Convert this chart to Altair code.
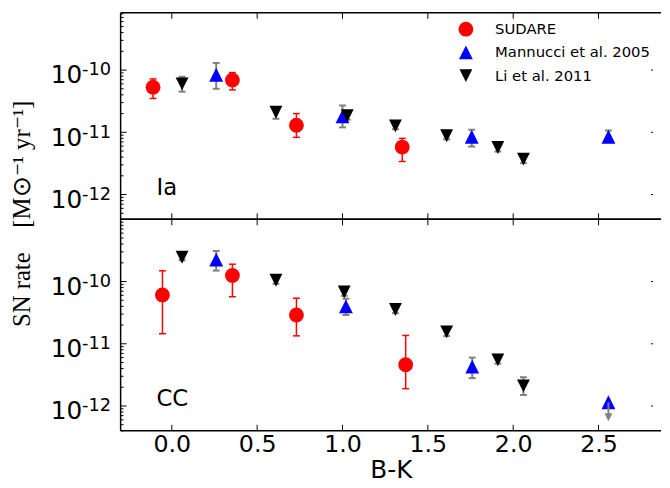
import altair as alt
import pandas as pd

FONT = "DejaVu Sans"
SERIF = "Liberation Serif"

series_names = ["SUDARE", "Mannucci et al. 2005", "Li et al. 2011"]
series_colors = ["#ff0000", "#0000ff", "#000000"]
err_colors = ["#ff0000", "#808080", "#808080"]
TRI_UP = "M0,-1L1,1L-1,1Z"
TRI_DOWN = "M0,1L1,-1L-1,-1Z"
series_shapes = ["circle", TRI_UP, TRI_DOWN]
series_sizes = [225, 169, 169]

# ---- Ia panel ----
ia_sudare_x = [-0.11, 0.355, 0.73, 1.35]
ia_sudare_y = [5.3e-11, 6.9e-11, 1.3e-11, 5.8e-12]
ia_sudare_lo = [3.5e-11, 4.8e-11, 8.3e-12, 3.4e-12]
ia_sudare_hi = [7.2e-11, 9.1e-11, 2.0e-11, 8.0e-12]

ia_mannucci_x = [0.26, 1.0, 1.757, 2.558]
ia_mannucci_y = [8.4e-11, 1.8e-11, 8.5e-12, 8.5e-12]
ia_mannucci_lo = [5.0e-11, 1.2e-11, 5.9e-12, 8.0e-12]
ia_mannucci_hi = [1.3e-10, 2.7e-11, 1.1e-11, 1.07e-11]

ia_li_x = [0.06, 0.61, 1.028, 1.31, 1.61, 1.91, 2.06]
ia_li_y = [6.0e-11, 2.1e-11, 1.85e-11, 1.27e-11, 8.8e-12, 5.7e-12, 3.7e-12]
ia_li_lo = [4.5e-11, 1.65e-11, 1.6e-11, 1.12e-11, 7.7e-12, 4.9e-12, 3.2e-12]
ia_li_hi = [7.8e-11, 2.5e-11, 2.1e-11, 1.42e-11, 1.0e-11, 6.6e-12, 4.2e-12]

# ---- CC panel ----
cc_sudare_x = [-0.055, 0.355, 0.73, 1.37]
cc_sudare_y = [6.1e-11, 1.25e-10, 2.9e-11, 4.6e-12]
cc_sudare_lo = [1.45e-11, 5.7e-11, 1.34e-11, 1.9e-12]
cc_sudare_hi = [1.49e-10, 1.9e-10, 5.4e-11, 1.36e-11]

cc_mannucci_x = [0.26, 1.02, 1.76, 2.558]
cc_mannucci_y = [2.25e-10, 4.0e-11, 4.3e-12, 1.15e-12]
cc_mannucci_lo = [1.5e-10, 2.9e-11, 2.8e-12, None]
cc_mannucci_hi = [3.1e-10, 5.3e-11, 6.0e-12, None]
cc_limit_x = [2.558]
cc_limit_from = [1.15e-12]
cc_limit_to = [6.6e-13]

cc_li_x = [0.06, 0.61, 1.01, 1.31, 1.61, 1.91, 2.06]
cc_li_y = [2.46e-10, 1.05e-10, 6.8e-11, 3.55e-11, 1.55e-11, 5.5e-12, 2.1e-12]
cc_li_lo = [2.2e-10, 9.2e-11, 5.9e-11, 3.1e-11, 1.33e-11, 4.8e-12, 1.5e-12]
cc_li_hi = [2.8e-10, 1.18e-10, 7.8e-11, 4.0e-11, 1.8e-11, 6.5e-12, 2.9e-12]

panel_labels = ["Ia", "CC"]
label_x = -0.09
label_y = 1e-12

xtick_vals = [0.0, 0.5, 1.0, 1.5, 2.0, 2.5]
ytick_vals = [1e-12, 1e-11, 1e-10]
ytick_base = ["10", "10", "10"]
ytick_sup = ["-12", "-11", "-10"]
x_domain = [-0.3, 2.866]
ia_domain = [4e-13, 8.3e-10]
cc_domain = [4e-13, 1e-9]
y_title = "SN rate\u2002\u2002[M\u2299\u207b\u00b9 yr\u207b\u00b9]"

W = 547
H_TOP = 209
H_BOT = 214

one = pd.DataFrame({"a": [0]})


def build(sets):
    rows = []
    for name, xs, ys, los, his in sets:
        for x, y, lo, hi in zip(xs, ys, los, his):
            rows.append(dict(series=name, x=x, y=y, lo=lo, hi=hi))
    return pd.DataFrame(rows)


ia_df = build([
    ("SUDARE", ia_sudare_x, ia_sudare_y, ia_sudare_lo, ia_sudare_hi),
    ("Mannucci et al. 2005", ia_mannucci_x, ia_mannucci_y, ia_mannucci_lo, ia_mannucci_hi),
    ("Li et al. 2011", ia_li_x, ia_li_y, ia_li_lo, ia_li_hi),
])
cc_df = build([
    ("SUDARE", cc_sudare_x, cc_sudare_y, cc_sudare_lo, cc_sudare_hi),
    ("Mannucci et al. 2005", cc_mannucci_x, cc_mannucci_y, cc_mannucci_lo, cc_mannucci_hi),
    ("Li et al. 2011", cc_li_x, cc_li_y, cc_li_lo, cc_li_hi),
])


def make_panel(df, ydom, H, label, bottom):
    xs = alt.Scale(domain=x_domain, nice=False, zero=False)
    ys = alt.Scale(type="log", domain=ydom, nice=False)
    if bottom:
        xaxis = alt.Axis(values=xtick_vals, format=".1f", ticks=False, domain=False, grid=False,
                         labelFont=FONT, labelFontSize=24, labelColor="black", labelPadding=2,
                         labelFlush=False,
                         title="B-K", titleFont=FONT, titleFontSize=25, titleFontWeight="normal",
                         titleColor="black", titleBaseline="alphabetic", titleY=47)
        yaxis = alt.Axis(values=ytick_vals, labels=False, ticks=False, domain=False,
                         grid=False, title=None)
    else:
        xaxis = None
        yaxis = alt.Axis(values=ytick_vals, labels=False, ticks=False, domain=False,
                         grid=False, title=y_title, titleFont=SERIF, titleFontSize=25,
                         titleFontWeight="normal", titleColor="black", titleAngle=270,
                         titleAlign="center", titleBaseline="alphabetic", titleX=-92, titleY=203)

    def X(f):
        return alt.X(f, type="quantitative", scale=xs, axis=xaxis)

    def Y(f):
        return alt.Y(f, type="quantitative", scale=ys, axis=yaxis)

    minor = [m * 10 ** e for e in range(-13, -9) for m in range(2, 10)]
    minor = [v for v in minor if ydom[0] <= v <= ydom[1]]
    minor_df = pd.DataFrame({"y": minor})
    major_df = pd.DataFrame({"y": ytick_vals, "base": ytick_base, "sup": ytick_sup})
    xt_df = pd.DataFrame({"x": xtick_vals})

    layers = []
    # frame
    frame = alt.Chart(one).mark_rule(color="black", strokeWidth=1.5)
    layers.append(frame.encode(x=alt.value(0), x2=alt.value(W), y=alt.value(0)))
    layers.append(frame.encode(x=alt.value(0), x2=alt.value(W), y=alt.value(H)))
    layers.append(frame.encode(x=alt.value(0), y=alt.value(0), y2=alt.value(H)))
    # ticks
    layers.append(alt.Chart(major_df).mark_rule(color="black", strokeWidth=1).encode(
        y=Y("y"), x=alt.value(0), x2=alt.value(6)))
    layers.append(alt.Chart(minor_df).mark_rule(color="black", strokeWidth=1).encode(
        y=Y("y"), x=alt.value(0), x2=alt.value(3)))
    layers.append(alt.Chart(major_df).mark_rule(color="black", strokeWidth=1).encode(
        y=Y("y"), x=alt.value(W - 10), x2=alt.value(W - 8)))
    layers.append(alt.Chart(xt_df).mark_rule(color="black", strokeWidth=1).encode(
        x=X("x"), y=alt.value(0), y2=alt.value(6)))
    layers.append(alt.Chart(xt_df).mark_rule(color="black", strokeWidth=1).encode(
        x=X("x"), y=alt.value(H - 6), y2=alt.value(H)))
    # y tick labels: 10 with superscript exponent
    layers.append(alt.Chart(major_df).mark_text(align="right", baseline="alphabetic", font=FONT,
                                                fontSize=25, dy=13.5, color="black").encode(
        y=Y("y"), x=alt.value(-39), text="base:N"))
    layers.append(alt.Chart(major_df).mark_text(align="left", baseline="alphabetic", font=FONT,
                                                fontSize=18, dy=5.3, color="black").encode(
        y=Y("y"), x=alt.value(-39), text="sup:N"))
    # error bars
    edf = df.dropna(subset=["lo", "hi"])
    for name, col in zip(series_names, err_colors):
        sub = edf[edf["series"] == name]
        sw = 1.5 if name == "SUDARE" else 2
        layers.append(alt.Chart(sub).mark_rule(color=col, strokeWidth=sw).encode(
            x=X("x"), y=Y("lo"), y2="hi"))
        for f in ["lo", "hi"]:
            layers.append(alt.Chart(sub).mark_tick(color=col, orient="horizontal", size=7,
                                                   thickness=sw, opacity=1).encode(
                x=X("x"), y=Y(f)))
    # markers
    if bottom:
        leg = None
    else:
        leg = alt.Legend(title=None, orient="none", legendX=342, legendY=9, labelFont=FONT,
                         labelFontSize=15, labelColor="black", symbolSize=150,
                         symbolStrokeWidth=0, labelOffset=22, rowPadding=7.5, padding=0,
                         labelLimit=300, symbolOpacity=1)
    layers.append(alt.Chart(df).mark_point(filled=True, opacity=1, strokeWidth=0).encode(
        x=X("x"), y=Y("y"),
        color=alt.Color("series:N", scale=alt.Scale(domain=series_names, range=series_colors),
                        legend=leg),
        shape=alt.Shape("series:N", scale=alt.Scale(domain=series_names, range=series_shapes),
                        legend=leg),
        size=alt.Size("series:N", scale=alt.Scale(domain=series_names, range=series_sizes),
                      legend=None),
    ))
    if bottom:
        lim = pd.DataFrame({"x": cc_limit_x, "y": cc_limit_from, "y2": cc_limit_to})
        layers.append(alt.Chart(lim).mark_rule(color="#808080", strokeWidth=2).encode(
            x=X("x"), y=Y("y"), y2="y2"))
        layers.append(alt.Chart(lim).mark_point(shape=TRI_DOWN, filled=True, size=64,
                                                color="#808080", opacity=1).encode(
            x=X("x"), y=Y("y2")))
    tdf = pd.DataFrame({"x": [label_x], "y": [label_y], "t": [label]})
    layers.append(alt.Chart(tdf).mark_text(align="left", baseline="alphabetic", font=FONT,
                                           fontSize=23, color="black").encode(
        x=X("x"), y=Y("y"), text="t:N"))
    return alt.layer(*layers).properties(width=W, height=H)


top = make_panel(ia_df, ia_domain, H_TOP, panel_labels[0], False)
bot = make_panel(cc_df, cc_domain, H_BOT, panel_labels[1], True)

chart = (
    alt.vconcat(top, bot, spacing=0, bounds="flush")
    .resolve_scale(x="independent", y="independent", color="independent",
                   shape="independent", size="independent")
    .resolve_legend(color="independent", shape="independent")
    .properties(padding={"left": 2, "top": 1, "right": 0, "bottom": 0}, background="white")
    .configure_view(stroke=None)
)

chart.save("out.html", embed_options={"renderer": "svg", "actions": False})
